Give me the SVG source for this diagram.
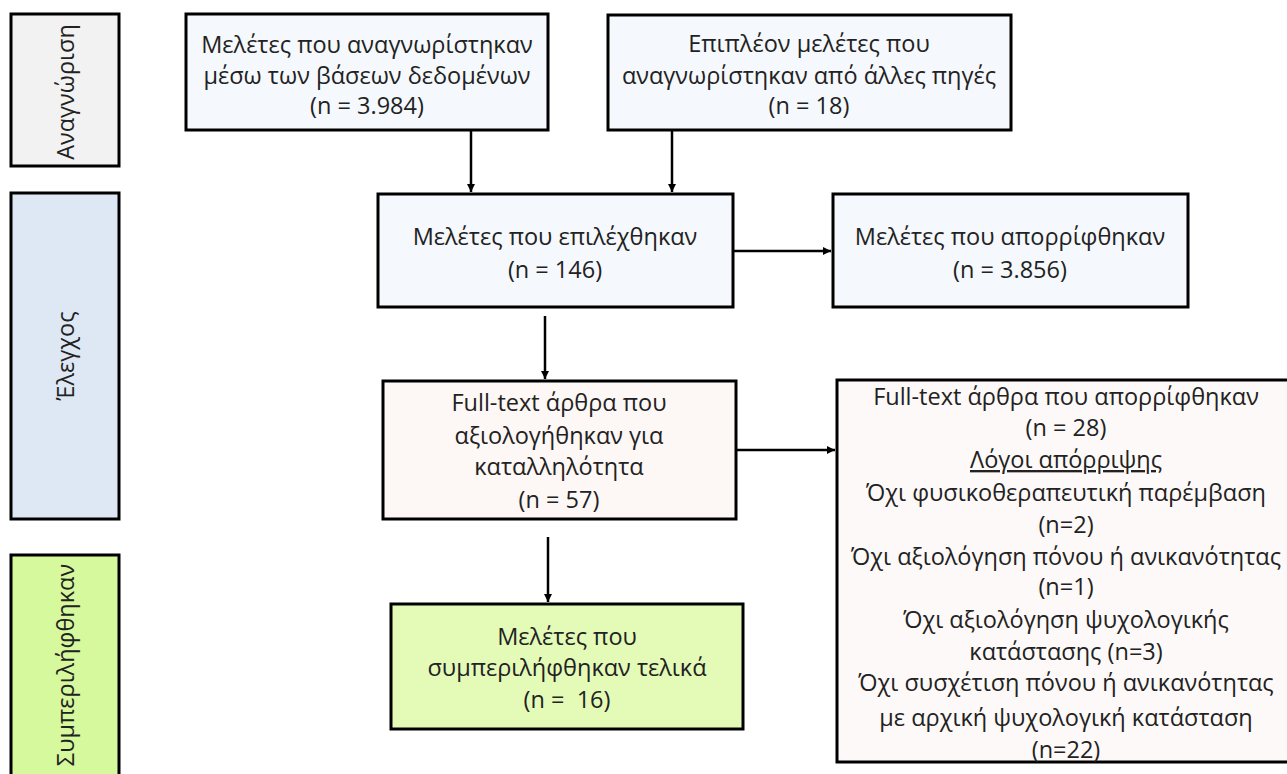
<svg xmlns="http://www.w3.org/2000/svg" width="1287" height="774" viewBox="0 0 1287 774">
<defs>
<marker id="ah" markerWidth="10" markerHeight="10" refX="8" refY="4.5" orient="auto" markerUnits="userSpaceOnUse">
<path d="M0,0.5 L8,4.5 L0,8.5 Z" fill="#000"/>
</marker>
<style>
.b{stroke:#000;stroke-width:3}
.t{font-family:"Open Sans","Noto Sans",sans-serif;font-size:23.5px;fill:#222;text-anchor:middle;white-space:pre}
.c{stroke:#000;stroke-width:2.5;fill:none;marker-end:url(#ah)}
</style>
</defs>
<rect width="1287" height="774" fill="#fff"/>
<g id="phase-identification">
<rect class="b" x="11" y="14" width="108" height="152" fill="#f2f2f2"/>
<text class="t" transform="translate(74,92) rotate(-90)">Αναγνώριση</text>
</g>
<g id="phase-screening">
<rect class="b" x="11" y="193" width="108" height="326" fill="#dee8f5"/>
<text class="t" transform="translate(74,356) rotate(-90)">Έλεγχος</text>
</g>
<g id="phase-included">
<rect class="b" x="11" y="555" width="108" height="230" fill="#d5f99c"/>
<text class="t" transform="translate(74,665) rotate(-90)">Συμπεριλήφθηκαν</text>
</g>
<g id="n-db">
<rect class="b" x="186" y="14" width="362" height="116" fill="#f5f8fc"/>
<text class="t" x="367" y="53">Μελέτες που αναγνωρίστηκαν</text>
<text class="t" x="367" y="84">μέσω των βάσεων δεδομένων</text>
<text class="t" x="367" y="114">(n = 3.984)</text>
</g>
<g id="n-other">
<rect class="b" x="608" y="15" width="403" height="115" fill="#f5f8fc"/>
<text class="t" x="809" y="52">Επιπλέον μελέτες που</text>
<text class="t" x="809" y="84">αναγνωρίστηκαν από άλλες πηγές</text>
<text class="t" x="809" y="114">(n = 18)</text>
</g>
<g id="n-selected">
<rect class="b" x="378" y="194" width="355" height="113" fill="#f5f8fc"/>
<text class="t" x="555" y="245">Μελέτες που επιλέχθηκαν</text>
<text class="t" x="555" y="278">(n = 146)</text>
</g>
<g id="n-rejected">
<rect class="b" x="833" y="194" width="355" height="113" fill="#f5f8fc"/>
<text class="t" x="1010" y="245">Μελέτες που απορρίφθηκαν</text>
<text class="t" x="1010" y="278">(n = 3.856)</text>
</g>
<g id="n-fulltext">
<rect class="b" x="383" y="381" width="353" height="138" fill="#fdf7f6"/>
<text class="t" x="559" y="411">Full-text άρθρα που</text>
<text class="t" x="559" y="444">αξιολογήθηκαν για</text>
<text class="t" x="559" y="475">καταλληλότητα</text>
<text class="t" x="559" y="508">(n = 57)</text>
</g>
<g id="n-fulltext-rejected">
<rect class="b" x="837" y="380" width="460" height="382" fill="#fdf9f8"/>
<text class="t" x="1066" y="405">Full-text άρθρα που απορρίφθηκαν</text>
<text class="t" x="1066" y="436">(n = 28)</text>
<text class="t" x="1066" y="468" text-decoration="underline">Λόγοι απόρριψης</text>
<text class="t" x="1066" y="501">Όχι φυσικοθεραπευτική παρέμβαση</text>
<text class="t" x="1066" y="533">(n=2)</text>
<text class="t" x="1066" y="565">Όχι αξιολόγηση πόνου ή ανικανότητας</text>
<text class="t" x="1066" y="595">(n=1)</text>
<text class="t" x="1066" y="628">Όχι αξιολόγηση ψυχολογικής</text>
<text class="t" x="1066" y="660">κατάστασης (n=3)</text>
<text class="t" x="1066" y="691">Όχι συσχέτιση πόνου ή ανικανότητας</text>
<text class="t" x="1066" y="726">με αρχική ψυχολογική κατάσταση</text>
<text class="t" x="1066" y="758">(n=22)</text>
</g>
<g id="n-included">
<rect class="b" x="391" y="604" width="352" height="125" fill="#e4fbb8"/>
<text class="t" x="567" y="645">Μελέτες που</text>
<text class="t" x="567" y="676">συμπεριλήφθηκαν τελικά</text>
<text class="t" x="567" y="708">(n =  16)</text>
</g>
<g id="connectors">
<line class="c" x1="471" y1="131" x2="471" y2="192"/>
<line class="c" x1="672" y1="131" x2="672" y2="192"/>
<line class="c" x1="734" y1="251" x2="831" y2="251"/>
<line class="c" x1="545" y1="316" x2="545" y2="379"/>
<line class="c" x1="737" y1="450" x2="835" y2="450"/>
<line class="c" x1="548" y1="537" x2="548" y2="602"/>
</g>
</svg>
